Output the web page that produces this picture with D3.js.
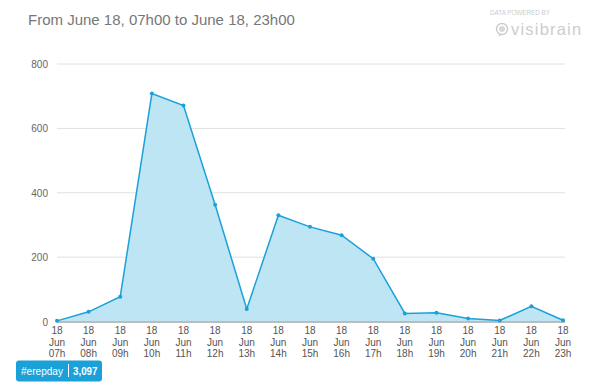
<!DOCTYPE html>
<html><head><meta charset="utf-8">
<script src="https://cdn.jsdelivr.net/npm/d3@7"></script>
<style>body{margin:0;background:#fff;} svg{display:block;font-family:"Liberation Sans",Arial,sans-serif;}</style>
</head><body>
<svg id="c" width="599" height="391"></svg>
<script>
const hours = ["07h","08h","09h","10h","11h","12h","13h","14h","15h","16h","17h","18h","19h","20h","21h","22h","23h"];
const values = [2,30,77,708,671,363,39,330,294,268,195,25,27,9,3,47,4];
const yTicks = [0,200,400,600,800];
const title = "From June 18, 07h00 to June 18, 23h00";
const hashtag = "#erepday";
const total = "3,097";

const svg = d3.select("#c");
const x = d3.scalePoint().domain(hours).range([57, 563]);
const y = d3.scaleLinear().domain([0,800]).range([321.5, 64]);

svg.append("text").attr("x",28).attr("y",25).attr("fill","#777").attr("font-size",15).text(title);

// logo
svg.append("text").attr("x",490).attr("y",15).attr("fill","#cccccc").attr("font-size",6.3).text("DATA POWERED BY");
const lg = svg.append("g").attr("transform","translate(502,29)");
lg.append("circle").attr("r",5.5).attr("fill","none").attr("stroke","#cccccc").attr("stroke-width",1.4);
lg.append("circle").attr("r",3).attr("fill","#d8d8d8");
lg.append("path").attr("d","M-2.5,4.5 L-3.5,8 L0,5.5 Z").attr("fill","#cccccc");
svg.append("text").attr("x",511).attr("y",35).attr("fill","#cdcdcd").attr("font-size",16.5).attr("letter-spacing",1.2).text("visibrain");

// grid
const g = svg.append("g");
g.selectAll("line.grid").data(yTicks.filter(d=>d>0)).join("line")
  .attr("x1",57).attr("x2",565).attr("y1",d=>y(d)).attr("y2",d=>y(d))
  .attr("stroke","#e0e0e0").attr("stroke-width",1);
g.selectAll("text.yl").data(yTicks).join("text")
  .attr("x",48).attr("y",d=>y(d)+4).attr("text-anchor","end")
  .attr("fill","#666").attr("font-size",10).text(d=>d);

// area
const area = d3.area().x((d,i)=>x(hours[i])).y0(y(0)).y1(d=>y(d));
const line = d3.line().x((d,i)=>x(hours[i])).y(d=>y(d));
g.append("path").datum(values).attr("d",area).attr("fill","#bde5f4");
g.append("line").attr("x1",57).attr("x2",565).attr("y1",y(0)+0.5).attr("y2",y(0)+0.5).attr("stroke","#a8a8a8").attr("stroke-width",1.5);
g.append("path").datum(values).attr("d",line).attr("fill","none").attr("stroke","#1ba1d8").attr("stroke-width",1.5);
g.selectAll("circle.pt").data(values).join("circle")
  .attr("cx",(d,i)=>x(hours[i])).attr("cy",d=>y(d)).attr("r",2).attr("fill","#1ba1d8");

// x labels
const xl = g.selectAll("g.xl").data(hours).join("g").attr("transform",d=>`translate(${x(d)},0)`);
["18","Jun",null].forEach((t,k)=>{
  xl.append("text").attr("y",334+k*11.5).attr("text-anchor","middle").attr("fill","#555").attr("font-size",10)
    .text(d=>t===null?d:t);
});

// badge
const b = svg.append("g");
b.append("rect").attr("x",16).attr("y",360.5).attr("width",86).attr("height",21).attr("rx",3).attr("fill","#1ba1d8");
b.append("text").attr("x",21).attr("y",375).attr("fill","#fff").attr("font-size",11.5).attr("textLength",42).attr("lengthAdjust","spacingAndGlyphs").text(hashtag);
b.append("line").attr("x1",68.5).attr("x2",68.5).attr("y1",364).attr("y2",377).attr("stroke","#fff").attr("stroke-width",1);
b.append("text").attr("x",73).attr("y",375).attr("fill","#fff").attr("font-size",11.5).attr("font-weight","bold").attr("textLength",24.5).attr("lengthAdjust","spacingAndGlyphs").text(total);
</script>
</body></html>
